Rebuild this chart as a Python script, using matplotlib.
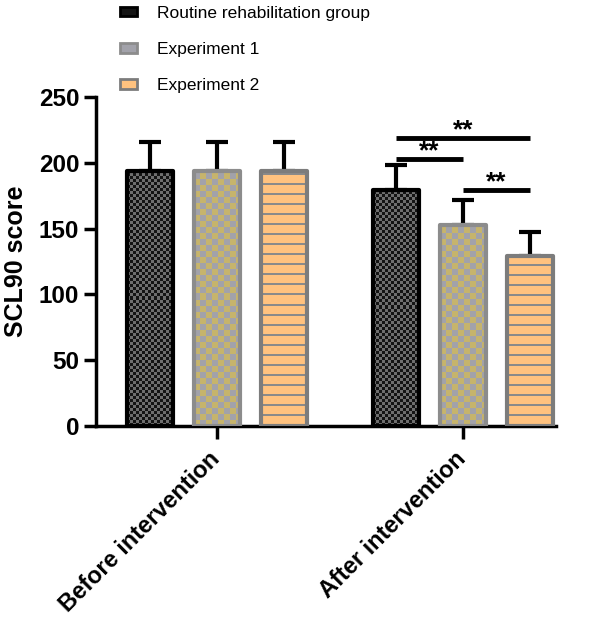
import numpy as np
import matplotlib.pyplot as plt
from matplotlib.patches import Patch

plt.rcParams['font.family'] = ['Liberation Sans', 'DejaVu Sans']

groups = ["Before intervention", "After intervention"]
series = ["Routine rehabilitation group", "Experiment 1", "Experiment 2"]
means = {
    "Routine rehabilitation group": [194, 179],
    "Experiment 1": [194, 153],
    "Experiment 2": [194, 129],
}
errors = {
    "Routine rehabilitation group": [22, 19],
    "Experiment 1": [22, 19],
    "Experiment 2": [22, 18],
}
# significance brackets: (group, bar a, bar b, height, label)
sig = [(1, 0, 2, 219, "**"), (1, 0, 1, 203, "**"), (1, 1, 2, 179, "**")]

styles = {
    "Routine rehabilitation group": dict(kind="checker", cell=3, c1="#141414", c2="#6e6e6e", edge="black"),
    "Experiment 1": dict(kind="checker", cell=6, c1="#a2a2aa", c2="#c6b46c", edge="#8c8c8c"),
    "Experiment 2": dict(kind="stripes", cell=10, c1="#ffc27f", c2="#8a8a8a", edge="#7c7c7c"),
}


def rgb(c):
    return np.array(plt.matplotlib.colors.to_rgb(c))


def texture(ax, bar, st):
    # fill one bar with a pixel pattern (checker or horizontal stripes)
    x0, y0 = bar.get_x(), bar.get_y()
    x1, y1 = x0 + bar.get_width(), y0 + bar.get_height()
    p0 = ax.transData.transform((x0, y0))
    p1 = ax.transData.transform((x1, y1))
    w = max(int(round(p1[0] - p0[0])), 1)
    h = max(int(round(p1[1] - p0[1])), 1)
    yy, xx = np.mgrid[0:h, 0:w]
    n = st["cell"]
    if st["kind"] == "checker":
        mask = ((xx // n) + (yy // n)) % 2 == 0
    else:
        mask = (yy % n) < 2
    img = np.where(mask[..., None], rgb(st["c2"]), rgb(st["c1"]))
    ax.imshow(img, extent=(x0, x1, y0, y1), origin="lower",
              interpolation="nearest", aspect="auto", zorder=2)


fig = plt.figure(figsize=(6, 6.18), dpi=100)
ax = fig.add_axes([0.16, 0.311, 0.767, 0.532])
ax.set_xlim(-1.81, 5.06)
ax.set_ylim(0, 250)

centers = [0, 3.67]
offsets = [-1, 0, 1]
width = 0.68

for i, s in enumerate(series):
    st = styles[s]
    xs = [c + offsets[i] for c in centers]
    ax.errorbar(xs, means[s], yerr=[[0, 0], errors[s]], fmt="none",
                ecolor="black", elinewidth=3, capsize=8, capthick=3, zorder=1)
    bars = ax.bar(xs, means[s], width, facecolor="none", edgecolor=st["edge"],
                  linewidth=3, joinstyle="round", zorder=3)
    for b in bars:
        texture(ax, b, st)

for g, a, b, h, lab in sig:
    xa = centers[g] + offsets[a]
    xb = centers[g] + offsets[b]
    ax.plot([xa, xb], [h, h], color="black", lw=3.5, solid_capstyle="butt")
    ax.text((xa + xb) / 2, h + 6, lab, ha="center", va="center",
            fontsize=19, fontweight="bold")

ax.set_xlim(-1.81, 5.06)
ax.set_ylim(0, 250)
ax.set_yticks([0, 50, 100, 150, 200, 250])
ax.set_xticks(centers)
ax.set_xticklabels([])
# group labels placed by hand so they sit a little left of the ticks
for c, name in zip(centers, groups):
    ax.annotate(name, xy=(c, 0), xycoords=ax.get_xaxis_transform(),
                xytext=(-6.5, -15.5), textcoords="offset points",
                rotation=45, ha="right", va="top", rotation_mode="anchor",
                fontsize=17, fontweight="bold")
ax.set_ylabel("SCL90 score", fontsize=18, fontweight="bold", labelpad=8)
for lbl in ax.get_yticklabels():
    lbl.set_fontweight("bold")
    lbl.set_fontsize(17.5)
ax.tick_params(width=2.5, length=9, pad=3)
ax.spines["top"].set_visible(False)
ax.spines["right"].set_visible(False)
ax.spines["left"].set_linewidth(2.5)
ax.spines["bottom"].set_linewidth(2.5)

handles = [Patch(facecolor=styles[s]["c1"], edgecolor=styles[s]["edge"],
                 linewidth=2) for s in series]
fig.legend(handles, series, loc="upper left", bbox_to_anchor=(0.2, 0.9905),
           frameon=False, fontsize=12.5, handlelength=1.0, handleheight=0.45,
           labelspacing=1.22, handletextpad=1.15, borderpad=0, borderaxespad=0)

fig.savefig("out.png", dpi=100)
